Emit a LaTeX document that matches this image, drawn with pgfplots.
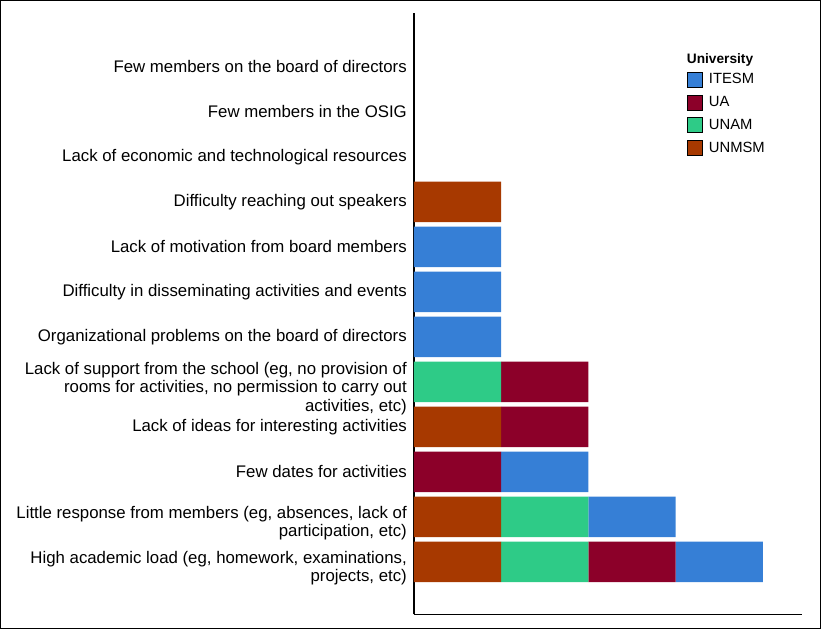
\documentclass[border=0pt]{standalone}
\usepackage{fontspec}
\setmainfont{Liberation Sans}
\usepackage{pgfplots}
\usepackage{pgfplotstable}
\usetikzlibrary{calc}
\pgfplotsset{compat=1.18}
\definecolor{itesm}{HTML}{367FD6}
\definecolor{ua}{HTML}{8C0029}
\definecolor{unam}{HTML}{2ECB87}
\definecolor{unmsm}{HTML}{A73900}

\pgfplotstableread{
row UNMSM UNAM UA ITESM
0 1 1 1 1
1 1 1 0 1
2 0 0 1 1
3 1 0 1 0
4 0 1 1 0
5 0 0 0 1
6 0 0 0 1
7 0 0 0 1
8 1 0 0 0
9 0 0 0 0
10 0 0 0 0
11 0 0 0 0
}\datatable

\newcommand{\tl}{\rule{0pt}{25bp}}

\begin{document}
\begin{tikzpicture}
\begin{axis}[
  scale only axis, width=387.7bp, height=601.3bp,
  xbar stacked, bar width=40.5bp,
  xmin=0, xmax=4.446, ymin=-1.164, ymax=12.2,
  separate axis lines,
  axis x line=bottom, axis y line=left,
  axis line style={-, line width=1.2bp, black},
  xtick=\empty,
  ytick={0,...,11},
  major tick length=0pt,
  yticklabel style={align=right, font=\fontsize{16.8bp}{18.6bp}\selectfont, inner xsep=0pt, xshift=-7bp},
  yticklabels={
    {\tl High academic load (eg, homework, examinations,\\ projects, etc)},
    {\tl Little response from members (eg, absences, lack of\\ participation, etc)},
    {Few dates for activities},
    {Lack of ideas for interesting activities},
    {\tl Lack of support from the school (eg, no provision of\\ rooms for activities, no permission to carry out\\ activities, etc)},
    {Organizational problems on the board of directors},
    {Difficulty in disseminating activities and events},
    {Lack of motivation from board members},
    {Difficulty reaching out speakers},
    {Lack of economic and technological resources},
    {Few members in the OSIG},
    {Few members on the board of directors}
  },
  legend image code/.code={\fill[#1] (0bp,-7.5bp) rectangle (15bp,7.5bp);},
  legend cell align=left,
  legend style={at={(0.7034,0.9024)}, anchor=north west, draw=none, fill=none,
    inner sep=0pt, row sep=7.3bp, column sep=0pt,
    font=\fontsize{14.8bp}{16bp}\selectfont,
    nodes={inner xsep=6.6bp, inner ysep=0pt}},
]
\coordinate (O) at (rel axis cs:0,0);
\addplot[fill=unmsm, draw=none, forget plot] table[x=UNMSM, y=row] {\datatable};
\addplot[fill=unam, draw=none, forget plot] table[x=UNAM, y=row] {\datatable};
\addplot[fill=ua, draw=none, forget plot] table[x=UA, y=row] {\datatable};
\addplot[fill=itesm, draw=none, forget plot] table[x=ITESM, y=row] {\datatable};
\addlegendimage{fill=itesm}\addlegendentry{ITESM}
\addlegendimage{fill=ua}\addlegendentry{UA}
\addlegendimage{fill=unam}\addlegendentry{UNAM}
\addlegendimage{fill=unmsm}\addlegendentry{UNMSM}
\end{axis}
\draw[line width=1.2bp] ($(O)+(-413.4bp,-14.1bp)$) rectangle ($(O)+(406.4bp,613.7bp)$);
\node[anchor=base west, inner sep=0pt, font=\bfseries\fontsize{13.7bp}{16bp}\selectfont] at ($(O)+(272.7bp,551bp)$) {University};
\end{tikzpicture}
\end{document}
